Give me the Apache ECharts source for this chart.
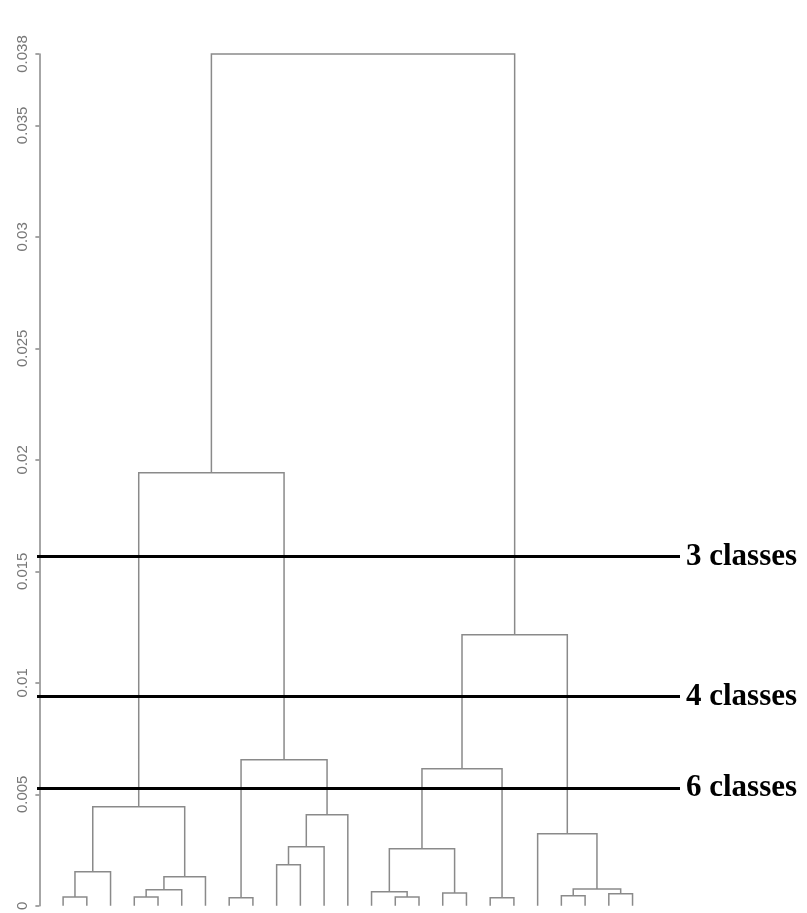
<!DOCTYPE html>
<html>
<head>
<meta charset="utf-8">
<script src="https://cdn.jsdelivr.net/npm/echarts@6/dist/echarts.min.js"></script>
<style>
  html, body { margin: 0; padding: 0; background: #fff; }
  #chart { width: 807px; height: 913px; }
</style>
</head>
<body>
<div id="chart"></div>
<script>
// leaves in display order, 1..25
const leafCount = 25

// merge list (hclust style): negative = leaf, positive = earlier merge (1-based)
const mergeLeft  = [-1, 1, -4, 3, 4, 2, -8, -10, 8, 9, 7, 6, -15, -14, -17, 14, -19, 16, -22, -24, 19, -21, 18, 12]
const mergeRight = [-2, -3, -5, -6, -7, 5, -9, -11, -12, -13, 10, 11, -16, 13, -18, 15, -20, 17, -23, -25, 20, 21, 22, 23]
const mergeHeight = [
  0.0004, 0.00153, 0.0004, 0.00072, 0.0013, 0.00444,
  0.00036, 0.00184, 0.00265, 0.00408, 0.00655, 0.01942,
  0.0004, 0.00063, 0.00058, 0.00256, 0.00036, 0.00615,
  0.00045, 0.00054, 0.00076, 0.00323, 0.01216, 0.0382
]

// cut levels
const cutHeights = [0.01566, 0.00938, 0.00527]
const cutLabels = ['3 classes', '4 classes', '6 classes']

// layout: x of each merge is midpoint of its children
const mergeX = []
const node = (ref) => ref < 0
  ? { x: -ref, h: 0 }
  : { x: mergeX[ref - 1], h: mergeHeight[ref - 1] }

const links = []
for (let i = 0; i < mergeHeight.length; i++) {
  const a = node(mergeLeft[i])
  const b = node(mergeRight[i])
  mergeX.push((a.x + b.x) / 2)
  links.push([a.x, a.h, b.x, b.h, mergeHeight[i]])
}

const chart = echarts.init(document.getElementById('chart'))

const option = {
  animation: false,
  grid: { left: 37, right: 127, top: 54, bottom: 7 },
  xAxis: {
    type: 'value',
    min: -0.1,
    max: 27,
    show: false
  },
  yAxis: {
    type: 'value',
    min: 0,
    max: 0.0382,
    interval: 0.005,
    splitLine: { show: false },
    axisLine: { show: true, lineStyle: { color: '#888', width: 1.5 } },
    axisTick: { show: true, length: 4, lineStyle: { color: '#888', width: 1.5 } },
    axisLabel: {
      rotate: 90,
      margin: 7,
      color: '#777',
      fontSize: 15,
      fontFamily: 'Liberation Sans',
      showMaxLabel: true,
      formatter: v => String(parseFloat(v.toFixed(3)))
    }
  },
  series: [
    {
      type: 'custom',
      silent: true,
      data: links,
      renderItem: (params, api) => {
        const p1 = api.coord([api.value(0), api.value(1)])
        const p2 = api.coord([api.value(0), api.value(4)])
        const p3 = api.coord([api.value(2), api.value(4)])
        const p4 = api.coord([api.value(2), api.value(3)])
        return {
          type: 'polyline',
          shape: { points: [p1, p2, p3, p4] },
          style: { stroke: '#8a8a8a', lineWidth: 1.5, fill: null }
        }
      },
      markLine: {
        silent: true,
        symbol: 'none',
        precision: 6,
        lineStyle: { color: '#000', width: 3, type: 'solid' },
        label: {
          show: true,
          position: 'end',
          distance: 6,
          color: '#000',
          fontFamily: 'Liberation Serif',
          fontWeight: 'bold',
          fontSize: 31,
          formatter: p => p.name
        },
        data: cutHeights.map((h, i) => ({ yAxis: h, name: cutLabels[i] }))
      }
    }
  ]
}

chart.setOption(option)
</script>
</body>
</html>
